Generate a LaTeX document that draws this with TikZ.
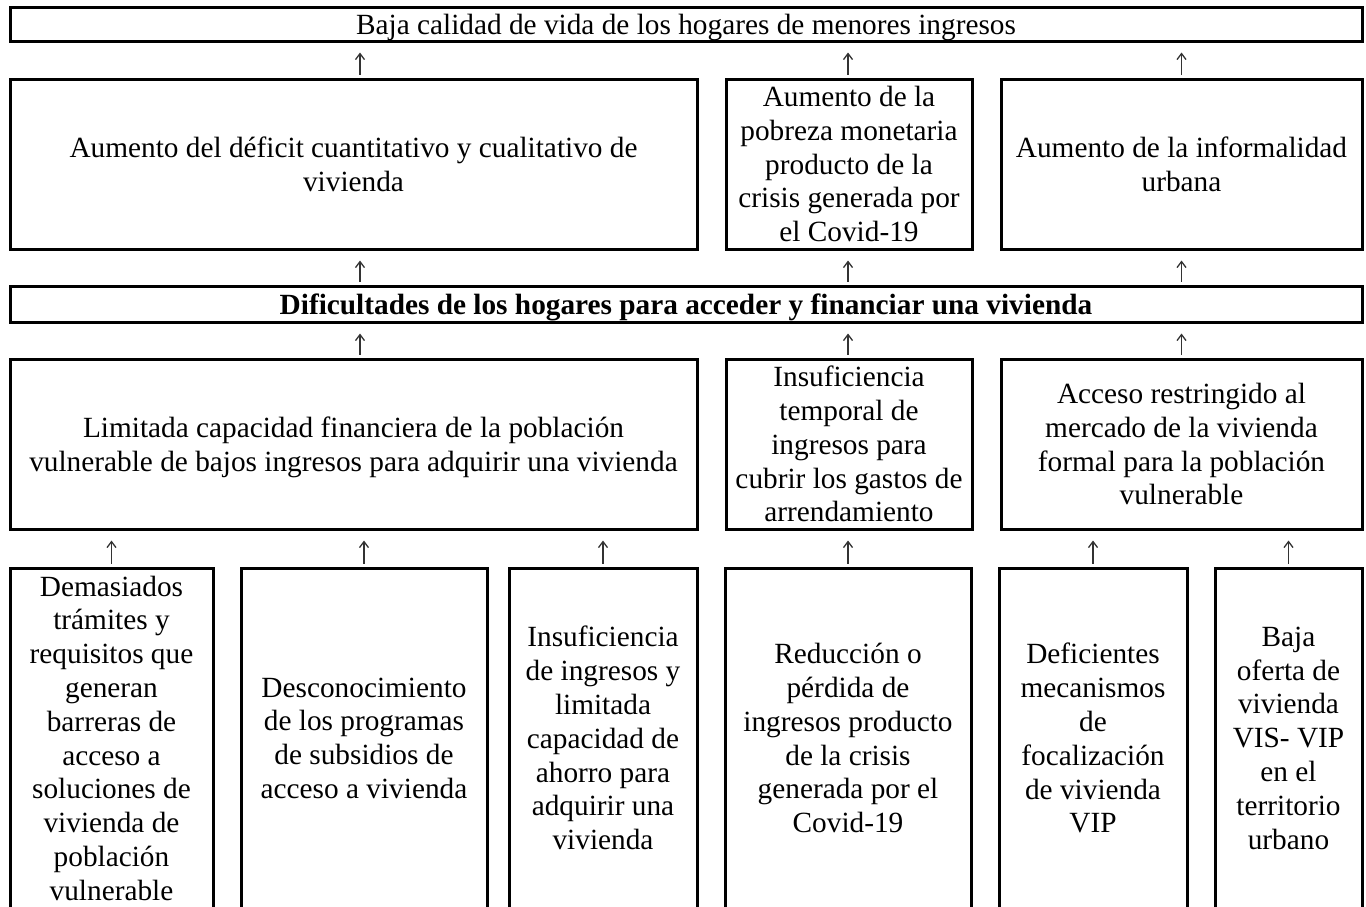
\documentclass[tikz,border=0pt]{standalone}
\usepackage{fontspec}
\setmainfont{Liberation Serif}
\usetikzlibrary{arrows.meta}
\begin{document}
\begin{tikzpicture}[x=1pt,y=-1pt,
  box/.style={draw=black,line width=3pt,inner sep=0pt,align=center,text depth=0pt,
    font=\fontsize{29.3}{33.8}\selectfont},
  upar/.style={draw=black!80,line width=1.3pt,-{Straight Barb[length=6pt,width=9pt,line width=1.3pt]},
    shorten <=3pt,shorten >=10pt}]
\useasboundingbox (0,0) rectangle (1366,906);
% effect
\node[box,minimum width=1352pt,minimum height=34pt] (top) at (686,24) {Baja calidad de vida de los hogares de menores ingresos};
% row 2
\node[box,minimum width=687pt,minimum height=170pt] (e1) at (353.5,164) {Aumento del déficit cuantitativo y cualitativo de\\vivienda};
\node[box,minimum width=246pt,minimum height=170pt] (e2) at (849,164) {Aumento de la\\pobreza monetaria\\producto de la\\crisis generada por\\el Covid-19};
\node[box,minimum width=361pt,minimum height=170pt] (e3) at (1181.5,164) {Aumento de la informalidad\\urbana};
% problem bar
\node[box,minimum width=1352pt,minimum height=36pt,font=\fontsize{29.3}{33.8}\selectfont\bfseries] (bar) at (686,304) {Dificultades de los hogares para acceder y financiar una vivienda};
% row 3
\node[box,minimum width=687pt,minimum height=170pt] (c1) at (353.5,444) {Limitada capacidad financiera de la población\\vulnerable de bajos ingresos para adquirir una vivienda};
\node[box,minimum width=246pt,minimum height=170pt] (c2) at (849,444) {Insuficiencia\\temporal de\\ingresos para\\cubrir los gastos de\\arrendamiento};
\node[box,minimum width=361pt,minimum height=170pt] (c3) at (1181.5,444) {Acceso restringido al\\mercado de la vivienda\\formal para la población\\vulnerable};
% bottom row (bottom edge lies just below the page)
\node[box,minimum width=203pt,minimum height=340pt] (b1) at (111.5,738) {Demasiados\\trámites y\\requisitos que\\generan\\barreras de\\acceso a\\soluciones de\\vivienda de\\población\\vulnerable};
\node[box,minimum width=246pt,minimum height=340pt] (b2) at (364,738) {Desconocimiento\\de los programas\\de subsidios de\\acceso a vivienda};
\node[box,minimum width=188pt,minimum height=340pt] (b3) at (603,738) {Insuficiencia\\de ingresos y\\limitada\\capacidad de\\ahorro para\\adquirir una\\vivienda};
\node[box,minimum width=246pt,minimum height=340pt] (b4) at (848,738) {Reducción o\\pérdida de\\ingresos producto\\de la crisis\\generada por el\\Covid-19};
\node[box,minimum width=188pt,minimum height=340pt] (b5) at (1093,738) {Deficientes\\mecanismos\\de\\focalización\\de vivienda\\VIP};
\node[box,minimum width=147pt,minimum height=340pt] (b6) at (1288.5,738) {Baja\\oferta de\\vivienda\\VIS- VIP\\en el\\territorio\\urbano};
% arrows
\draw[upar] ([xshift=6.5pt]e1.north) -- ([xshift=6.5pt]e1.north |- top.south);
\draw[upar] ([xshift=-1pt]e2.north) -- ([xshift=-1pt]e2.north |- top.south);
\draw[upar] (e3.north) -- (e3.north |- top.south);
\draw[upar] ([xshift=6.5pt]bar.north -| e1.south) -- ([xshift=6.5pt]e1.south);
\draw[upar] ([xshift=-1pt]bar.north -| e2.south) -- ([xshift=-1pt]e2.south);
\draw[upar] (bar.north -| e3.south) -- (e3.south);
\draw[upar] ([xshift=6.5pt]c1.north) -- ([xshift=6.5pt]c1.north |- bar.south);
\draw[upar] ([xshift=-1pt]c2.north) -- ([xshift=-1pt]c2.north |- bar.south);
\draw[upar] (c3.north) -- (c3.north |- bar.south);
\draw[upar] (b1.north) -- (b1.north |- c1.south);
\draw[upar] (b2.north) -- (b2.north |- c1.south);
\draw[upar] (b3.north) -- (b3.north |- c1.south);
\draw[upar] (b4.north) -- (b4.north |- c2.south);
\draw[upar] (b5.north) -- (b5.north |- c3.south);
\draw[upar] (b6.north) -- (b6.north |- c3.south);
\end{tikzpicture}
\end{document}
